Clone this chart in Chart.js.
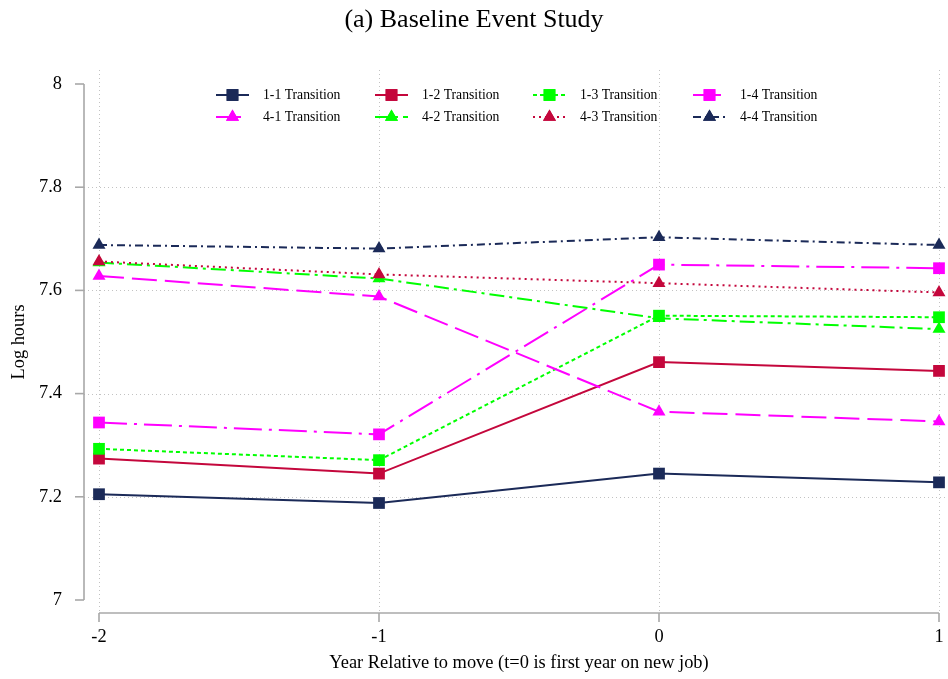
<!DOCTYPE html>
<html><head><meta charset="utf-8">
<script src="https://cdn.jsdelivr.net/npm/chart.js@4.4.1/dist/chart.umd.min.js"></script>
<style>html,body{margin:0;padding:0;background:#fff}canvas{display:block}</style>
</head><body>
<canvas id="c" width="948" height="679"></canvas>
<script>
// ---- data ----
const years = [-2, -1, 0, 1];
const xTicks = [-2, -1, 0, 1];
const yTicks = [7, 7.2, 7.4, 7.6, 7.8, 8];
const yGrid = [7.2, 7.4, 7.6, 7.8];
const seriesNames = ['1-1 Transition','1-2 Transition','1-3 Transition','1-4 Transition',
                     '4-1 Transition','4-2 Transition','4-3 Transition','4-4 Transition'];
const t11 = [7.205, 7.188, 7.245, 7.228];
const t12 = [7.274, 7.245, 7.461, 7.444];
const t13 = [7.293, 7.271, 7.551, 7.548];
const t14 = [7.344, 7.321, 7.650, 7.643];
const t41 = [7.628, 7.588, 7.365, 7.346];
const t42 = [7.654, 7.623, 7.546, 7.525];
const t43 = [7.656, 7.631, 7.614, 7.596];
const t44 = [7.688, 7.681, 7.703, 7.688];
const seriesValues = [t11, t12, t13, t14, t41, t42, t43, t44];

// ---- styles ----
const NAVY = '#1b2a58', CRAN = '#c4073c', LIME = '#00ff00', MAG = '#ff00ff';
const styles = [
  {c: NAVY, dash: [], pt: 'rect'},
  {c: CRAN, dash: [], pt: 'rect'},
  {c: LIME, dash: [4, 3], pt: 'rect'},
  {c: MAG, dash: [28, 7, 3, 7], pt: 'rect'},
  {c: MAG, dash: [25, 8], pt: 'triangle'},
  {c: LIME, dash: [15, 5, 3, 5], pt: 'triangle'},
  {c: CRAN, dash: [2, 4], pt: 'triangle'},
  {c: NAVY, dash: [8, 4, 2, 4], pt: 'triangle'}
];
const FONT = "'Liberation Serif', 'Times New Roman', serif";
const radiusFor = s => s.pt === 'rect' ? 8.3 : 7.5;

const datasets = seriesValues.map((vals, i) => ({
  label: seriesNames[i],
  data: vals.map((v, j) => ({x: years[j], y: v})),
  borderColor: styles[i].c,
  backgroundColor: styles[i].c,
  borderWidth: 2,
  borderDash: styles[i].dash,
  pointStyle: styles[i].pt,
  pointRadius: radiusFor(styles[i]),
  pointBorderWidth: 0,
  pointBackgroundColor: styles[i].c,
  tension: 0,
  clip: false,
  order: 10 - i
}));

function seg(ctx, x1, y1, x2, y2) { ctx.beginPath(); ctx.moveTo(x1, y1); ctx.lineTo(x2, y2); ctx.stroke(); }

const framePlugin = {
  id: 'frame',
  beforeDatasetsDraw(chart) {
    const {ctx, chartArea: a, scales: {x, y}} = chart;
    const L = a.left - 15, R = a.right + 6, T = a.top - 14, B = a.bottom + 13;
    ctx.save();
    ctx.strokeStyle = '#c2c2c2'; ctx.lineWidth = 1; ctx.setLineDash([1, 3]);
    xTicks.forEach(v => { const p = Math.round(x.getPixelForValue(v)) + 0.5; seg(ctx, p, T, p, B); });
    yGrid.forEach(v => { const p = Math.round(y.getPixelForValue(v)) + 0.5; seg(ctx, L, p, R, p); });
    ctx.setLineDash([]);
    ctx.strokeStyle = '#a8a8a8'; ctx.lineWidth = 1.6;
    const yTop = y.getPixelForValue(yTicks[yTicks.length - 1]), yBot = y.getPixelForValue(yTicks[0]);
    seg(ctx, L, yTop, L, yBot);
    yTicks.forEach(v => { const p = y.getPixelForValue(v); seg(ctx, L - 9, p, L, p); });
    const xl = x.getPixelForValue(xTicks[0]), xr = x.getPixelForValue(xTicks[xTicks.length - 1]);
    seg(ctx, xl, B, xr, B);
    xTicks.forEach(v => { const p = x.getPixelForValue(v); seg(ctx, p, B, p, B + 9); });
    ctx.restore();
  },
  afterDraw(chart) {
    const ctx = chart.ctx;
    const colX = [216, 375, 533, 693], rowY = [95, 117];
    ctx.save();
    chart.data.datasets.forEach((ds, i) => {
      const lx = colX[i % 4], ly = rowY[Math.floor(i / 4)];
      ctx.strokeStyle = ds.borderColor; ctx.lineWidth = 2; ctx.setLineDash(ds.borderDash);
      seg(ctx, lx, ly, lx + 33, ly);
      ctx.setLineDash([]);
      ctx.fillStyle = ds.backgroundColor;
      Chart.helpers.drawPoint(ctx, {pointStyle: ds.pointStyle, radius: ds.pointRadius, rotation: 0, borderWidth: 0}, lx + 16.5, ly);
      ctx.fill();
      ctx.fillStyle = '#000'; ctx.font = '13.7px ' + FONT; ctx.textBaseline = 'middle'; ctx.textAlign = 'left';
      ctx.fillText(ds.label, lx + 47, ly);
    });
    ctx.restore();
  }
};

new Chart(document.getElementById('c'), {
  type: 'line',
  data: {datasets},
  options: {
    responsive: false,
    devicePixelRatio: 1,
    animation: false,
    layout: {padding: 0},
    plugins: {
      legend: {display: false},
      tooltip: {enabled: false},
      title: {
        display: true,
        text: '(a) Baseline Event Study',
        color: '#000',
        font: {family: FONT, size: 26, weight: 'normal', lineHeight: 1.2},
        padding: {top: 4.4, bottom: 48.4}
      }
    },
    scales: {
      x: {
        type: 'linear', min: -2, max: 1,
        afterBuildTicks: s => { s.ticks = xTicks.map(v => ({value: v})); },
        afterFit: s => { s.height = 79; s.paddingLeft = 0; s.paddingRight = 9; },
        grid: {display: false}, border: {display: false},
        ticks: {color: '#000', font: {family: FONT, size: 18.4}, padding: 18, maxRotation: 0,
                callback: v => String(v)},
        title: {display: true, text: 'Year Relative to move (t=0 is first year on new job)', color: '#000',
                font: {family: FONT, size: 18.4}, padding: {top: 0, bottom: 5}}
      },
      y: {
        type: 'linear', min: 7, max: 8,
        afterBuildTicks: s => { s.ticks = yTicks.map(v => ({value: v})); },
        afterFit: s => { s.width = 99; s.paddingTop = 0; s.paddingBottom = 0; },
        grid: {display: false}, border: {display: false},
        ticks: {color: '#000', font: {family: FONT, size: 18.4}, padding: 29,
                callback: v => String(Math.round(v * 10) / 10)},
        title: {display: true, text: 'Log hours', color: '#000',
                font: {family: FONT, size: 18.4}, padding: {top: 8, bottom: 0}}
      }
    }
  },
  plugins: [framePlugin]
});
</script>
</body></html>
